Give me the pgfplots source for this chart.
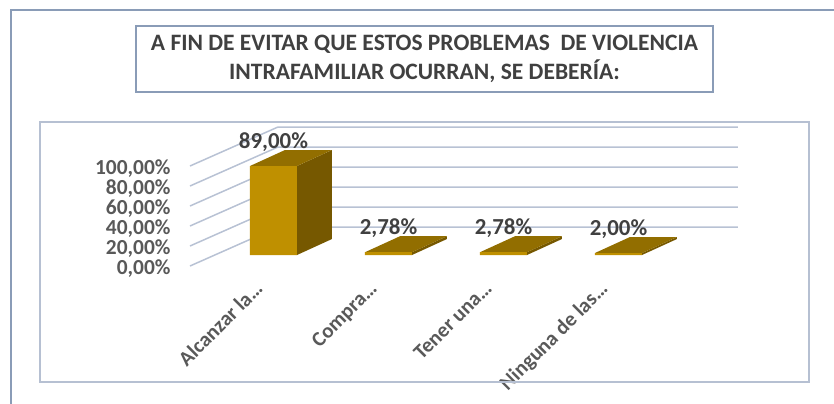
\documentclass[border=0pt]{standalone}
\usepackage{pgfplots}
\pgfplotsset{compat=1.18}
\usepackage{pgfplotstable}
\usepackage{fontspec}
\setmainfont{Carlito}
\definecolor{gridc}{HTML}{B8C2D4}
\definecolor{frontc}{HTML}{BF9000}
\definecolor{sidec}{HTML}{765800}
\definecolor{topc}{HTML}{926E00}
\definecolor{framec}{HTML}{8A9CB7}
\definecolor{boxc}{HTML}{B6C0D2}
\definecolor{titlec}{HTML}{404040}
\definecolor{tickc}{HTML}{595959}

% x = front centre of each bar, v = percentage
\pgfplotstableread{
x v
273.5 89
388.5 2.78
503.5 2.78
618.5 2
}\datatab

\begin{document}
\begin{tikzpicture}
\useasboundingbox (-190bp,-138bp) rectangle (644bp,266bp);
\begin{axis}[
 x=1bp, y=1bp,
 xmin=190, xmax=738, ymin=-11, ymax=89,
 clip=false,
 axis line style={draw=none},
 major tick length=0pt,
 ytick={-11,9,29,49,69,89},
 yticklabels={{0,00\%},{20,00\%},{40,00\%},{60,00\%},{80,00\%},{100,00\%}},
 yticklabel style={font=\bfseries\fontsize{21.5}{21.5}\selectfont, text=tickc, xshift=-16bp, yshift=-3bp},
 xtick={273.5,388.5,503.5,618.5},
 xticklabels={Alcanzar la…,Compra…,Tener una…,Ninguna de las…},
 xticklabel style={font=\bfseries\fontsize{21}{21}\selectfont, text=tickc, xshift=-20bp, yshift=-9bp, rotate=45, anchor=north east},
 /pgf/number format/assume math mode=true,
]
% frames
\draw[framec, line width=2bp] (axis cs:11,-160) -- (axis cs:11,245) -- (axis cs:850,245);
\draw[boxc, line width=1.5bp] (axis cs:40,133) rectangle (axis cs:809,-127);
\node[draw=framec, line width=1.5bp, minimum width=577bp, minimum height=66bp, align=center,
  font=\bfseries\fontsize{23.6}{28.5}\selectfont, text=titlec] at (axis cs:424.5,196)
  {A FIN DE EVITAR QUE ESTOS PROBLEMAS\ \ DE VIOLENCIA\\INTRAFAMILIAR OCURRAN, SE DEBERÍA:};
% gridlines (side wall + back wall)
\addplot[gridc, line width=1.5bp] coordinates {(190,-11)(278,28)(738,28)};
\addplot[gridc, line width=1.5bp] coordinates {(190,9)(278,48)(738,48)};
\addplot[gridc, line width=1.5bp] coordinates {(190,29)(278,68)(738,68)};
\addplot[gridc, line width=1.5bp] coordinates {(190,49)(278,88)(738,88)};
\addplot[gridc, line width=1.5bp] coordinates {(190,69)(278,108)(738,108)};
\addplot[gridc, line width=1.5bp] coordinates {(190,89)(278,128)(738,128)};
% side faces
\addplot[fill=sidec, draw=none] coordinates {(297,0)(332,16)(332,105)(297,89)} -- cycle;
\addplot[fill=sidec, draw=none] coordinates {(412,0)(447,16)(447,18.78)(412,2.78)} -- cycle;
\addplot[fill=sidec, draw=none] coordinates {(527,0)(562,16)(562,18.78)(527,2.78)} -- cycle;
\addplot[fill=sidec, draw=none] coordinates {(642,0)(677,16)(677,18)(642,2)} -- cycle;
% top faces
\addplot[fill=topc, draw=none] coordinates {(250,89)(297,89)(332,105)(285,105)} -- cycle;
\addplot[fill=topc, draw=none] coordinates {(365,2.78)(412,2.78)(447,18.78)(400,18.78)} -- cycle;
\addplot[fill=topc, draw=none] coordinates {(480,2.78)(527,2.78)(562,18.78)(515,18.78)} -- cycle;
\addplot[fill=topc, draw=none] coordinates {(595,2)(642,2)(677,18)(630,18)} -- cycle;
% front faces with value labels
\addplot[ybar, bar width=47, fill=frontc, draw=none,
  nodes near coords={\pgfmathprintnumber[fixed,fixed zerofill,precision=2,use comma,assume math mode=true]{\pgfplotspointmeta}\%},
  every node near coord/.append style={font=\bfseries\fontsize{23}{23}\selectfont, text=titlec, anchor=center, yshift=24bp}]
  table[x=x,y=v]{\datatab};
\end{axis}
\end{tikzpicture}
\end{document}
